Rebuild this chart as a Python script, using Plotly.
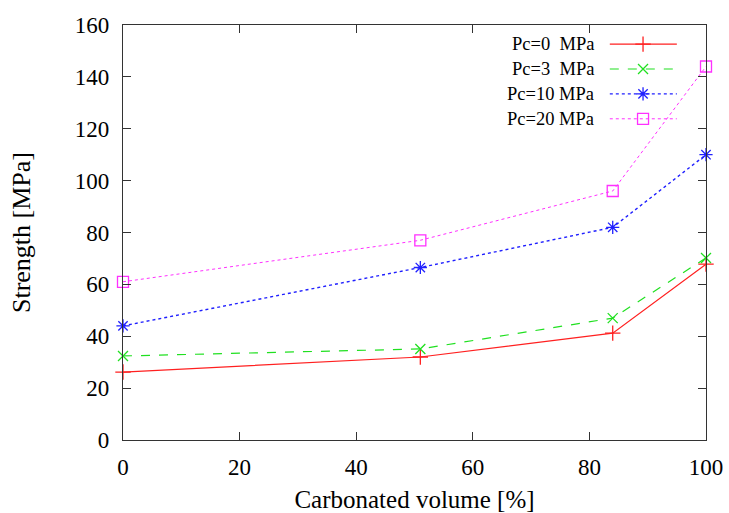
import plotly.graph_objects as go

# Carbonated volume [%] and strength [MPa] for each confining pressure
carbonated_volume = [0, 51, 84, 100]
pc0 = [26.2, 32.0, 41.2, 67.8]
pc3 = [32.4, 35.1, 47.0, 70.2]
pc10 = [44.0, 66.5, 82.0, 110.0]
pc20 = [61.0, 77.0, 96.0, 144.0]
series_names = ["Pc=0  MPa", "Pc=3  MPa", "Pc=10 MPa", "Pc=20 MPa"]
x_ticks = [0, 20, 40, 60, 80, 100]
y_ticks = [0, 20, 40, 60, 80, 100, 120, 140, 160]

styles = [
    dict(color="#ff2020", dash="solid", width=1.2, symbol="cross-thin", size=11),
    dict(color="#20e020", dash="dash", width=1.2, symbol="x-thin", size=10),
    dict(color="#2020ff", dash="dot", width=1.4, symbol="asterisk-open", size=11),
    dict(color="#ff30ff", dash="dot", width=1.0, symbol="square-open", size=11),
]

FONT = "Times New Roman, Liberation Serif, DejaVu Serif, serif"
fig = go.Figure()

for name, values, st in zip(series_names, [pc0, pc3, pc10, pc20], styles):
    fig.add_trace(go.Scatter(
        x=carbonated_volume, y=values, mode="lines+markers", name=name,
        line=dict(color=st["color"], dash=st["dash"], width=st["width"]),
        marker=dict(symbol=st["symbol"], size=st["size"],
                    line=dict(color=st["color"], width=1.3), color=st["color"]),
        cliponaxis=False, showlegend=False,
    ))

# Key samples drawn on an overlay axis spanning the plot area (0..1)
key_rows = [0.954, 0.894, 0.834, 0.774]
for name, yk, st in zip(series_names, key_rows, styles):
    fig.add_trace(go.Scatter(
        x=[0.835, 0.95], y=[yk, yk], xaxis="x2", yaxis="y2", mode="lines",
        line=dict(color=st["color"], dash=st["dash"], width=st["width"]),
        showlegend=False, hoverinfo="skip",
    ))
    fig.add_trace(go.Scatter(
        x=[0.892], y=[yk], xaxis="x2", yaxis="y2", mode="markers",
        marker=dict(symbol=st["symbol"], size=st["size"],
                    line=dict(color=st["color"], width=1.3), color=st["color"]),
        showlegend=False, hoverinfo="skip",
    ))
    fig.add_annotation(
        x=0.812, y=yk, xref="x2", yref="y2", text=name.replace(" ", "&nbsp;"),
        showarrow=False, xanchor="right", yanchor="middle",
        font=dict(family=FONT, size=18.5, color="black"),
    )

axis_common = dict(
    showgrid=False, zeroline=False, showline=True, linecolor="#333333", linewidth=1.2,
    mirror="ticks", ticks="inside", ticklen=8, tickcolor="#333333", tickwidth=1,
    tickfont=dict(family=FONT, size=23, color="black"), automargin=False,
)

fig.update_layout(
    width=729, height=513,
    margin=dict(l=123, r=23, t=25, b=73),
    paper_bgcolor="white", plot_bgcolor="white",
    font=dict(family=FONT, color="black"),
    xaxis=dict(range=[0, 100], tickvals=x_ticks, ticklabelstandoff=6,
               title=dict(text="Carbonated volume [%]", standoff=18,
                          font=dict(family=FONT, size=25, color="black")),
               **axis_common),
    yaxis=dict(range=[0, 160], tickvals=y_ticks, ticklabelstandoff=8,
               title=dict(text="Strength [MPa]", standoff=36,
                          font=dict(family=FONT, size=26, color="black")),
               **axis_common),
    xaxis2=dict(range=[0, 1], overlaying="x", visible=False, fixedrange=True),
    yaxis2=dict(range=[0, 1], overlaying="y", visible=False, fixedrange=True),
    showlegend=False,
)

fig.write_html("out.html")
